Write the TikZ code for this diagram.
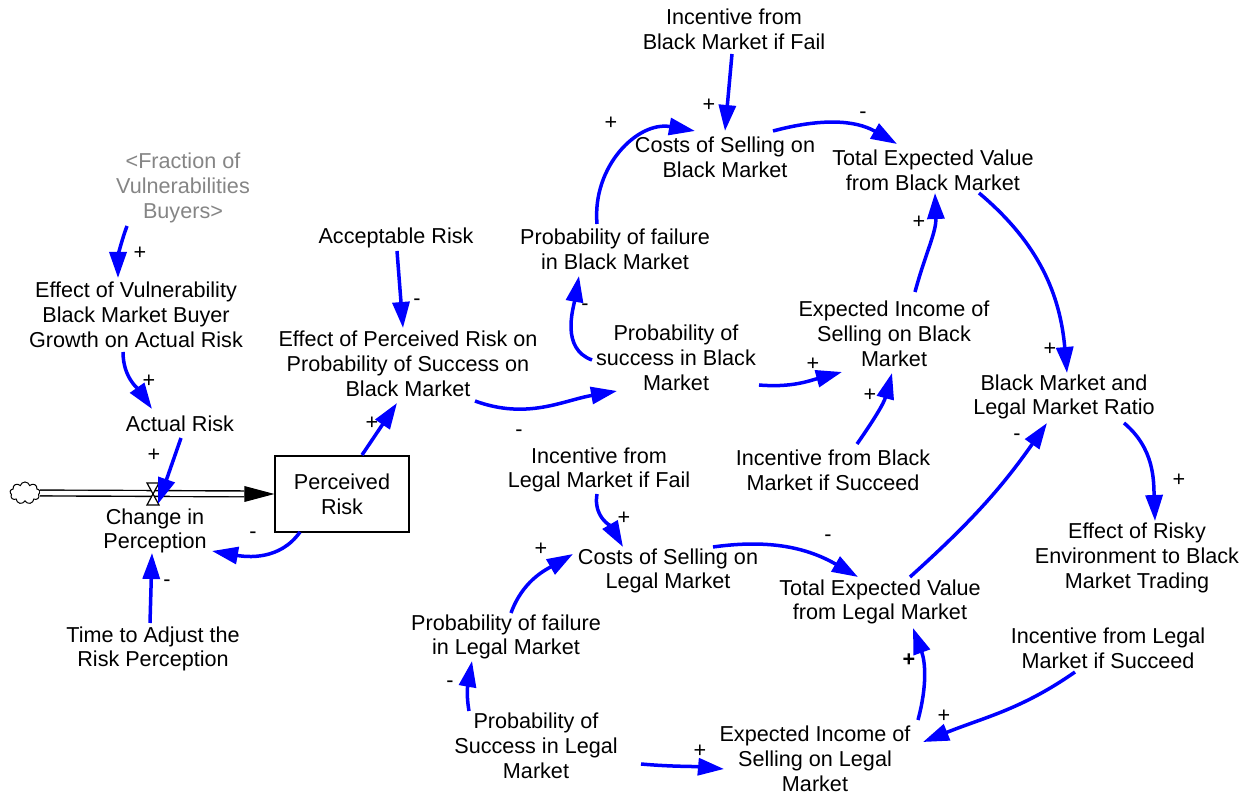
\documentclass[tikz,border=0pt]{standalone}
\usepackage{fontspec}
\setmainfont{Liberation Sans}
\usepackage{tikz}
\usetikzlibrary{arrows.meta,shapes.symbols}

\newcommand{\varfont}{\fontsize{10.8}{12.4}\selectfont}

\begin{document}
\begin{tikzpicture}[x=0.5pt,y=0.5pt,
    varnode/.style={align=center,font=\varfont,inner sep=1pt},
    pol/.style={font=\varfont,inner sep=0pt},
    link/.style={draw=blue,line width=1.75pt,-{Triangle[length=13pt,width=8.5pt]}}]
  \useasboundingbox (0,0) rectangle (1248,-795);

  % stock and flow
  \node[draw,line width=0.6pt,align=center,font=\varfont,minimum width=67pt,minimum height=38pt] (stock) at (342,-494) {Perceived\\Risk};
  \node[cloud,draw,line width=0.5pt,cloud puffs=9,aspect=1.3,minimum width=15pt,minimum height=11pt,inner sep=0pt] (src) at (25,-493) {};
  \coordinate (valve) at (153,-494);
  \draw[double distance=2.2pt,line width=0.7pt,shorten >=15pt] (src.east) -- (stock.west);
  \fill (stock.west) -- ++(-15pt,4pt) -- ++(0,-8pt) -- cycle;
  \draw[fill=white,line width=0.6pt] ([shift={(-6,11)}]valve) -- ([shift={(6,11)}]valve) -- ([shift={(-6,-11)}]valve) -- ([shift={(6,-11)}]valve) -- cycle;

  % variables
  \node[varnode,text=black!48] (frac) at (183,-188) {\textless Fraction of\\Vulnerabilities\\Buyers\textgreater};
  \node[varnode] (effvul) at (136,-315) {Effect of Vulnerability\\Black Market Buyer\\Growth on Actual Risk};
  \node[varnode] (actual) at (180,-424) {Actual Risk};
  \node[varnode] (change) at (155,-531) {Change in\\Perception};
  \node[varnode] (timeadj) at (153,-649) {Time to Adjust the\\Risk Perception};
  \node[varnode] (accept) at (396,-238) {Acceptable Risk};
  \node[varnode] (effperc) at (408,-364) {Effect of Perceived Risk on\\Probability of Success on\\Black Market};
  \node[varnode] (probsuccbm) at (676,-358) {Probability of\\success in Black\\Market};
  \node[varnode] (probfailbm) at (615,-249) {Probability of failure\\in Black Market};
  \node[varnode] (costbm) at (725,-157) {Costs of Selling on\\Black Market};
  \node[varnode] (incfailbm) at (734,-29) {Incentive from\\Black Market if Fail};
  \node[varnode] (totbm) at (933,-170) {Total Expected Value\\from Black Market};
  \node[varnode] (expincbm) at (894,-334) {Expected Income of\\Selling on Black\\Market};
  \node[varnode] (incsuccbm) at (833,-470) {Incentive from Black\\Market if Succeed};
  \node[varnode] (ratio) at (1064,-397) {Black Market and\\Legal Market Ratio};
  \node[varnode] (risky) at (1137,-558) {Effect of Risky\\Environment to Black\\Market Trading};
  \node[varnode] (incfaillm) at (599,-470) {Incentive from\\Legal Market if Fail};
  \node[varnode] (costlm) at (668,-571) {Costs of Selling on\\Legal Market};
  \node[varnode] (totlm) at (880,-602) {Total Expected Value\\from Legal Market};
  \node[varnode] (probfaillm) at (506,-637) {Probability of failure\\in Legal Market};
  \node[varnode] (probsucclm) at (536,-746) {Probability of\\Success in Legal\\Market};
  \node[varnode] (expinclm) at (815,-759) {Expected Income of\\Selling on Legal\\Market};
  \node[varnode] (incsucclm) at (1108,-648) {Incentive from Legal\\Market if Succeed};

  % links
  \draw[link] ([shift={(-56,-38)}]frac.center) to[out=-110,in=90] ([shift={(-18,37)}]effvul.center);
  \draw[link] ([shift={(-13,-37)}]effvul.center) to[out=-90,in=125] ([shift={(-28,15)}]actual.center);
  \draw[link] ([shift={(1,-14)}]actual.center) -- ([shift={(5,-10)}]valve);
  \draw[link] ([shift={(-42,-38)}]stock.center) to[out=-125,in=-10] ([shift={(57,-20)}]change.center);
  \draw[link] ([shift={(-3,26)}]timeadj.center) -- ([shift={(-3,-22)}]change.center);
  \draw[link] ([shift={(20,39)}]stock.center) -- ([shift={(-11,-39)}]effperc.center);
  \draw[link] ([shift={(1,-13)}]accept.center) -- ([shift={(-5,36)}]effperc.center);
  \draw[link] ([shift={(67,-37)}]effperc.center) to[out=-20,in=190] ([shift={(-59,-33)}]probsuccbm.center);
  \draw[link] ([shift={(-84,-2)}]probsuccbm.center) to[out=160,in=-100] ([shift={(-36,-27)}]probfailbm.center);
  \draw[link] ([shift={(-18,25)}]probfailbm.center) to[out=95,in=170,looseness=1.1] ([shift={(-30,26)}]costbm.center);
  \draw[link] ([shift={(-2,-25)}]incfailbm.center) -- ([shift={(0,26)}]costbm.center);
  \draw[link] ([shift={(48,26)}]costbm.center) to[out=15,in=150] ([shift={(-36,26)}]totbm.center);
  \draw[link] ([shift={(83,-27)}]probsuccbm.center) to[out=-5,in=195] ([shift={(-52,-38)}]expincbm.center);
  \draw[link] ([shift={(24,26)}]incsuccbm.center) to[out=55,in=-105] ([shift={(-2,-39)}]expincbm.center);
  \draw[link] ([shift={(21,42)}]expincbm.center) to[out=75,in=-88] ([shift={(2,-23)}]totbm.center);
  \draw[link] ([shift={(46,-23)}]totbm.center) to[out=-40,in=95] ([shift={(3,24)}]ratio.center);
  \draw[link] ([shift={(60,-26)}]ratio.center) to[out=-40,in=92] ([shift={(18,37)}]risky.center);
  \draw[link] ([shift={(30,25)}]totlm.center) to[out=42,in=-125] ([shift={(-17,-26)}]ratio.center);
  \draw[link] ([shift={(-2,-24)}]incfaillm.center) to[out=-100,in=120] ([shift={(-45,24)}]costlm.center);
  \draw[link] ([shift={(5,24)}]probfaillm.center) to[out=70,in=210] ([shift={(-95,17)}]costlm.center);
  \draw[link] ([shift={(45,24)}]costlm.center) to[out=8,in=150] ([shift={(-22,25)}]totlm.center);
  \draw[link] ([shift={(-67,35)}]probsucclm.center) to[out=100,in=-100] ([shift={(-34,-24)}]probfaillm.center);
  \draw[link] ([shift={(105,-18)}]probsucclm.center) to[out=-5,in=175] ([shift={(-91,-10)}]expinclm.center);
  \draw[link] ([shift={(103,39)}]expinclm.center) to[out=75,in=-70] ([shift={(33,-26)}]totlm.center);
  \draw[link] ([shift={(-33,-24)}]incsucclm.center) to[out=-145,in=22] ([shift={(108,17)}]expinclm.center);

  % polarities
  \node[pol] (s1) at (140,-253) {+};
  \node[pol] (s2) at (149,-381) {+};
  \node[pol] (s3) at (154,-455) {+};
  \node[pol] (s4) at (253,-535) {-};
  \node[pol] (s5) at (167,-583) {-};
  \node[pol] (s6) at (372,-423) {+};
  \node[pol] (s7) at (417,-302) {-};
  \node[pol] (s8) at (519,-433) {-};
  \node[pol] (s9) at (585,-307) {-};
  \node[pol] (s10) at (611,-123) {+};
  \node[pol] (s11) at (709,-105) {+};
  \node[pol] (s12) at (863,-115) {-};
  \node[pol] (s13) at (813,-364) {+};
  \node[pol] (s14) at (870,-395) {+};
  \node[pol] (s15) at (919,-222) {+};
  \node[pol] (s16) at (1050,-349) {+};
  \node[pol] (s17) at (1179,-480) {+};
  \node[pol] (s18) at (1017,-437) {-};
  \node[pol] (s19) at (624,-518) {+};
  \node[pol] (s20) at (541,-549) {+};
  \node[pol] (s21) at (828,-538) {-};
  \node[pol] (s22) at (450,-684) {-};
  \node[pol] (s23) at (700,-751) {+};
  \node[pol,font=\varfont\bfseries] (s24) at (909,-660) {+};
  \node[pol] (s25) at (944,-716) {+};
\end{tikzpicture}
\end{document}
